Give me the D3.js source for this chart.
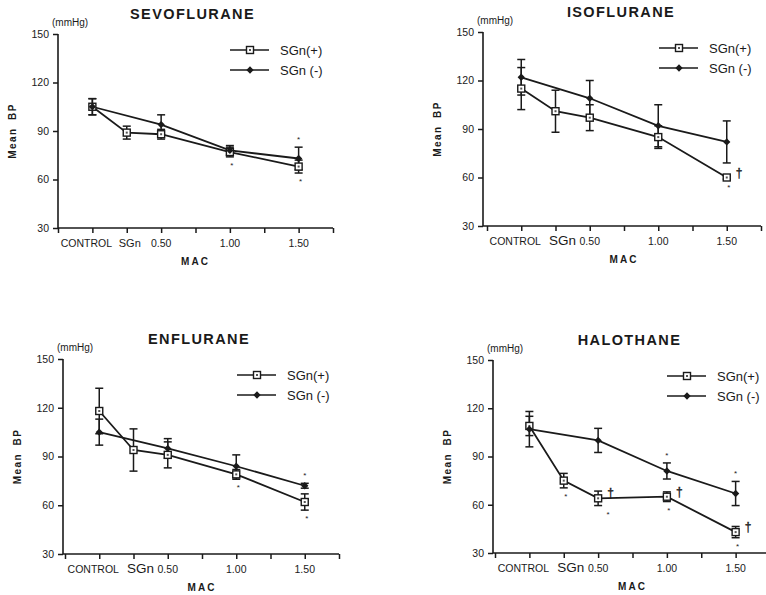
<!DOCTYPE html>
<html>
<head>
<meta charset="utf-8">
<script src="https://cdn.jsdelivr.net/npm/d3@7"></script>
<style>
  body { margin: 0; background: #fff; }
  svg { display: block; font-family: 'Liberation Sans', Arial, sans-serif; }
  text { fill: #1a1a1a; }
  .axis-line { stroke: #1a1a1a; stroke-width: 1.6; fill: none; }
  .series { stroke: #1a1a1a; stroke-width: 1.8; fill: none; }
  .err { stroke: #1a1a1a; stroke-width: 1.5; }
  .dagger { stroke: #1a1a1a; stroke-width: 0.35; opacity: 0.99; }
</style>
</head>
<body>
<script>
const width = 766;
const height = 595;

// x slots of the MAC axis (only some carry a label)
const xSlots = ['start', 'CONTROL', 'SGn', '0.50', '0.75', '1.00', '1.25', '1.50', 'end'];
const xLabels = ['CONTROL', 'SGn', '0.50', '1.00', '1.50'];
const yTicks = [30, 60, 90, 120, 150];

const titles = ['SEVOFLURANE', 'ISOFLURANE', 'ENFLURANE', 'HALOTHANE'];
const seriesNames = ['SGn(+)', 'SGn (-)'];

// Mean BP (mmHg) at CONTROL, SGn, 0.50, 1.00, 1.50 MAC
const sevoPlus = [105, 89, 88, 77, 68];
const sevoPlusErr = [5, 4, 3, 3, 4];
const sevoMinus = [105, null, 94, 78, 73];
const sevoMinusErr = [5, null, 6, 3, 7];

const isoPlus = [115, 101, 97, 85, 60];
const isoPlusErr = [13, 13, 8, 7, 1];
const isoMinus = [122, null, 109, 92, 82];
const isoMinusErr = [11, null, 11, 13, 13];

const enfPlus = [118, 94, 91, 79, 62];
const enfPlusErr = [14, 13, 8, 3, 5];
const enfMinus = [105, null, 95, 84, 72];
const enfMinusErr = [8, null, 6, 7, 1.5];

const haloPlus = [109, 75, 64, 65, 43];
const haloPlusErr = [6, 4.5, 4.5, 3, 3.5];
const haloMinus = [107, null, 100, 81, 67];
const haloMinusErr = [11, null, 7.5, 5, 7.5];

// significance marks: [x label, series (0 = SGn(+), 1 = SGn(-)), side, symbol]
const sevoMarks = [['1.00', 0, 'below', '*'], ['1.50', 1, 'above', '*'], ['1.50', 0, 'below', '*']];
const isoMarks = [['1.50', 0, 'right', '†'], ['1.50', 0, 'below', '*']];
const enfMarks = [['1.00', 0, 'below', '*'], ['1.50', 1, 'above', '*'], ['1.50', 0, 'below', '*']];
const haloMarks = [
  ['SGn', 0, 'below', '*'],
  ['0.50', 0, 'right', '†'], ['0.50', 0, 'belowRight', '*'],
  ['1.00', 0, 'right', '†'], ['1.00', 0, 'below', '*'], ['1.00', 1, 'above', '*'],
  ['1.50', 0, 'right', '†'], ['1.50', 0, 'below', '*'], ['1.50', 1, 'above', '*'],
];

const panels = [
  { title: titles[0], plus: sevoPlus, plusErr: sevoPlusErr, minus: sevoMinus, minusErr: sevoMinusErr,
    marks: sevoMarks, ax: 58, x0: 58, x8: 333, top: 34, bottom: 228, sgnSize: 11, sgnDx: 3 },
  { title: titles[1], plus: isoPlus, plusErr: isoPlusErr, minus: isoMinus, minusErr: isoMinusErr,
    marks: isoMarks, ax: 483, x0: 487, x8: 761, top: 32, bottom: 226, sgnSize: 13.5, sgnDx: 7 },
  { title: titles[2], plus: enfPlus, plusErr: enfPlusErr, minus: enfMinus, minusErr: enfMinusErr,
    marks: enfMarks, ax: 63, x0: 65, x8: 339, top: 359, bottom: 554, sgnSize: 13.5, sgnDx: 7 },
  { title: titles[3], plus: haloPlus, plusErr: haloPlusErr, minus: haloMinus, minusErr: haloMinusErr,
    marks: haloMarks, ax: 493, x0: 495, x8: 770, top: 360, bottom: 553, sgnSize: 13.5, sgnDx: 7 },
];

const svg = d3.select('body')
  .append('svg')
    .attr('width', width)
    .attr('height', height)
    .attr('viewBox', [0, 0, width, height].join(' '));

const drawMarker = (g, type, x, y) => {
  if (type === 0) {
    g.append('rect')
      .attr('x', x - 3.5)
      .attr('y', y - 3.5)
      .attr('width', 7)
      .attr('height', 7)
      .attr('fill', '#fff')
      .attr('stroke', '#1a1a1a')
      .attr('stroke-width', 1.4);
    g.append('rect')
      .attr('x', x - 1)
      .attr('y', y - 1)
      .attr('width', 2)
      .attr('height', 2)
      .attr('fill', '#555');
  } else {
    g.append('path')
      .attr('d', d3.symbol(d3.symbolDiamond2, 34)())
      .attr('transform', `translate(${x},${y})`)
      .attr('fill', '#1a1a1a');
  }
};

const drawPanel = (p) => {
  const g = svg.append('g');

  const x = d3.scalePoint()
    .domain(xSlots)
    .range([p.x0, p.x8]);

  const y = d3.scaleLinear()
    .domain([30, 150])
    .range([p.bottom, p.top]);

  const mid = (p.x0 + p.x8) / 2;

  // title
  g.append('text')
    .attr('x', mid - 3)
    .attr('y', p.top - 15)
    .attr('text-anchor', 'middle')
    .style('font-size', '14.5px')
    .style('font-weight', 'bold')
    .style('letter-spacing', '1.4px')
    .text(p.title);

  g.append('text')
    .attr('x', p.ax - 6)
    .attr('y', p.top - 8)
    .style('font-size', '10px')
    .text('(mmHg)');

  // y axis
  const yAxis = g.append('g')
    .attr('transform', `translate(${p.ax},0)`)
    .call(d3.axisLeft(y).tickValues(yTicks).tickSize(5).tickSizeOuter(0).tickPadding(4));
  yAxis.select('.domain').attr('class', 'axis-line').attr('d', `M0,${p.top}V${p.bottom}`);
  yAxis.selectAll('.tick line').attr('stroke', '#1a1a1a').attr('stroke-width', 1.5);
  yAxis.selectAll('.tick text')
    .style('font-size', '10.5px')
    .style('font-family', "'Liberation Sans', Arial, sans-serif")
    .attr('fill', '#1a1a1a');

  // x axis
  const xAxis = g.append('g')
    .attr('transform', `translate(0,${p.bottom})`)
    .call(d3.axisBottom(x).tickSize(5).tickSizeOuter(0).tickFormat(() => ''));
  xAxis.select('.domain').attr('class', 'axis-line').attr('d', `M${p.ax},0H${p.x8}`);
  xAxis.selectAll('.tick line').attr('stroke', '#1a1a1a').attr('stroke-width', 1.5);

  g.selectAll('text.xlabel')
    .data(xLabels)
    .join('text')
      .attr('class', 'xlabel')
      .attr('x', (d) => x(d) + (d === 'CONTROL' ? -6 : d === 'SGn' ? p.sgnDx : 0))
      .attr('y', p.bottom + 19)
      .attr('text-anchor', 'middle')
      .style('font-size', (d) => (d === 'SGn' ? p.sgnSize : 10.5) + 'px')
      .text((d) => d);

  g.append('text')
    .attr('x', mid)
    .attr('y', p.bottom + 37)
    .attr('text-anchor', 'middle')
    .style('font-size', '10px')
    .style('font-weight', 'bold')
    .style('letter-spacing', '2px')
    .text('MAC');

  g.append('text')
    .attr('transform', `translate(${p.ax - 42},${(p.top + p.bottom) / 2}) rotate(-90)`)
    .attr('text-anchor', 'middle')
    .style('font-size', '10px')
    .style('font-weight', 'bold')
    .style('letter-spacing', '1.5px')
    .style('word-spacing', '3px')
    .text('Mean BP');

  // series
  const series = [
    { values: p.plus, errs: p.plusErr },
    { values: p.minus, errs: p.minusErr },
  ].map((s) => xLabels
    .map((lab, i) => ({ lab, v: s.values[i], e: s.errs[i] }))
    .filter((d) => d.v != null));

  const line = d3.line()
    .x((d) => x(d.lab))
    .y((d) => y(d.v));

  series.forEach((pts) => {
    g.append('path')
      .attr('class', 'series')
      .attr('d', line(pts));
  });

  series.forEach((pts) => {
    pts.forEach((d) => {
      const cx = x(d.lab);
      g.append('line').attr('class', 'err')
        .attr('x1', cx).attr('x2', cx)
        .attr('y1', y(d.v + d.e)).attr('y2', y(d.v - d.e));
      [d.v + d.e, d.v - d.e].forEach((v) => {
        g.append('line').attr('class', 'err')
          .attr('x1', cx - 4).attr('x2', cx + 4)
          .attr('y1', y(v)).attr('y2', y(v));
      });
    });
  });

  series.forEach((pts, k) => {
    pts.forEach((d) => drawMarker(g, k, x(d.lab), y(d.v)));
  });

  // significance marks
  p.marks.forEach(([lab, k, side, sym]) => {
    const d = series[k].find((s) => s.lab === lab);
    let px = x(lab);
    let py;
    if (side === 'above') {
      py = y(d.v + d.e) - 5;
    } else if (side === 'right') {
      px += 9;
      py = y(d.v) - 1;
    } else {
      py = y(d.v - d.e) + 11;
      if (side === 'belowRight') px += 10;
      else px += 2;
    }
    g.append('text')
      .attr('class', sym === '†' ? 'dagger' : 'star')
      .attr('x', px)
      .attr('y', py)
      .attr('fill', '#1a1a1a')
      .attr('text-anchor', sym === '†' ? 'start' : 'middle')
      .style('font-size', sym === '†' ? '12px' : '8px')
      .text(sym);
  });

  // legend
  seriesNames.forEach((name, k) => {
    const ly = p.top + 16 + k * 20;
    g.append('line')
      .attr('x1', p.x0 + 172).attr('x2', p.x0 + 211)
      .attr('y1', ly).attr('y2', ly)
      .attr('stroke', '#1a1a1a')
      .attr('stroke-width', 1.6);
    drawMarker(g, k, p.x0 + 192, ly);
    g.append('text')
      .attr('x', p.x0 + 222)
      .attr('y', ly + 4.5)
      .style('font-size', '13px')
      .text(name);
  });
};

panels.forEach(drawPanel);
</script>
</body>
</html>
